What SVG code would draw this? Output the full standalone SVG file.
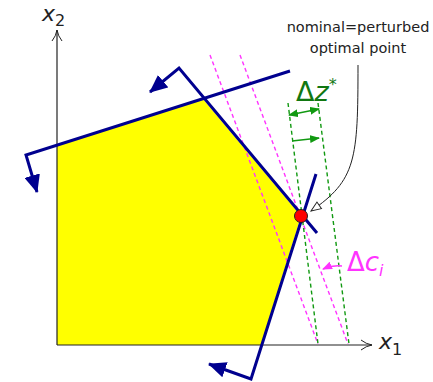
<svg xmlns="http://www.w3.org/2000/svg" width="433" height="382" viewBox="0 0 433 382">
<style>
.ax{stroke:#222;stroke-width:1.2;fill:none}
.con{stroke:#00008f;stroke-width:3;fill:none;stroke-linejoin:miter}
.pk{stroke:#ff33ff;stroke-width:1.4;stroke-dasharray:4,3;fill:none}
.gr{stroke:#119911;stroke-width:1.4;stroke-dasharray:4,3;fill:none}
.t{font-family:"DejaVu Sans",sans-serif}
</style>
<defs>
<marker id="bh" markerUnits="userSpaceOnUse" markerWidth="18" markerHeight="16" refX="17" refY="8" orient="auto" viewBox="0 0 18 16">
<path d="M0,0 L18,8 L0,16 z" fill="#00008f"/>
</marker>
<marker id="axh" markerUnits="userSpaceOnUse" markerWidth="14" markerHeight="12" refX="12" refY="6" orient="auto" viewBox="0 0 14 12">
<path d="M1,1 Q6,5 12,6 Q6,7 1,11" fill="none" stroke="#222" stroke-width="1"/>
</marker>
<marker id="gh" markerUnits="userSpaceOnUse" markerWidth="10" markerHeight="8" refX="9" refY="4" orient="auto" viewBox="0 0 10 8">
<path d="M0,0 L10,4 L0,8 z" fill="#119911"/>
</marker>
<marker id="ghs" markerUnits="userSpaceOnUse" markerWidth="10" markerHeight="8" refX="1" refY="4" orient="auto" viewBox="0 0 10 8">
<path d="M10,0 L0,4 L10,8 z" fill="#119911"/>
</marker>
<marker id="ph" markerUnits="userSpaceOnUse" markerWidth="10" markerHeight="8" refX="9" refY="4" orient="auto" viewBox="0 0 10 8">
<path d="M0,0 L10,4 L0,8 z" fill="#ff33ff"/>
</marker>
<marker id="oh" markerUnits="userSpaceOnUse" markerWidth="12" markerHeight="10" refX="11" refY="5" orient="auto" viewBox="0 0 12 10">
<path d="M1,1 L11,5 L1,9 z" fill="#fff" stroke="#222" stroke-width="1"/>
</marker>
</defs>
<g id="region">
<polygon points="57,345 57,146 203,99 301,216 261,345" fill="#ffff00"/>
</g>
<g id="axes">
<line class="ax" x1="57" y1="345" x2="57" y2="30" marker-end="url(#axh)"/>
<line class="ax" x1="57" y1="345" x2="372" y2="345" marker-end="url(#axh)"/>
<text class="t" x="42" y="21" font-size="22" font-style="italic" fill="#222">x</text>
<text class="t" x="55" y="26" font-size="16" fill="#222">2</text>
<text class="t" x="379" y="349" font-size="22" font-style="italic" fill="#222">x</text>
<text class="t" x="392" y="355" font-size="16" fill="#222">1</text>
</g>
<g id="objective">
<line class="pk" x1="210" y1="55" x2="318" y2="344"/>
<line class="pk" x1="240" y1="55" x2="348" y2="344"/>
<line class="gr" x1="288" y1="103" x2="318" y2="344"/>
<line class="gr" x1="318" y1="103" x2="349" y2="344"/>
</g>
<g id="constraints">
<polyline class="con" points="290,71 26,155 37,192" marker-end="url(#bh)"/>
<polyline class="con" points="317,233 179,68 150,92" marker-end="url(#bh)"/>
<polyline class="con" points="316,174 251,379 209,364" marker-end="url(#bh)"/>
</g>
<g id="connectors">
<line x1="289" y1="115" x2="319" y2="109" stroke="#119911" stroke-width="1.3" marker-start="url(#ghs)" marker-end="url(#gh)"/>
<line x1="292" y1="141" x2="319" y2="138" stroke="#119911" stroke-width="1.3" marker-end="url(#gh)"/>
<path d="M342,266 Q332,265 323,269" stroke="#ff33ff" stroke-width="1.5" fill="none" marker-end="url(#ph)"/>
<path d="M358,65 C358,160 356,180 311,211" stroke="#222" stroke-width="1" fill="none" marker-end="url(#oh)"/>
</g>
<g id="optimum">
<circle cx="301" cy="216" r="6.5" fill="#ff0000" stroke="#222" stroke-width="1"/>
</g>
<g id="labels">
<text class="t" x="358" y="32" font-size="14.5" text-anchor="middle" fill="#222">nominal=perturbed</text>
<text class="t" x="358" y="53" font-size="14.5" text-anchor="middle" fill="#222">optimal point</text>
<text class="t" x="296" y="101" font-size="27" fill="#117711">Δ<tspan font-style="italic">z</tspan><tspan font-size="16" dy="-11">*</tspan></text>
<text class="t" x="347" y="271" font-size="26" fill="#ff33ff">Δ<tspan font-style="italic">c</tspan><tspan font-size="16" font-style="italic" dy="5">i</tspan></text>
</g>
</svg>
